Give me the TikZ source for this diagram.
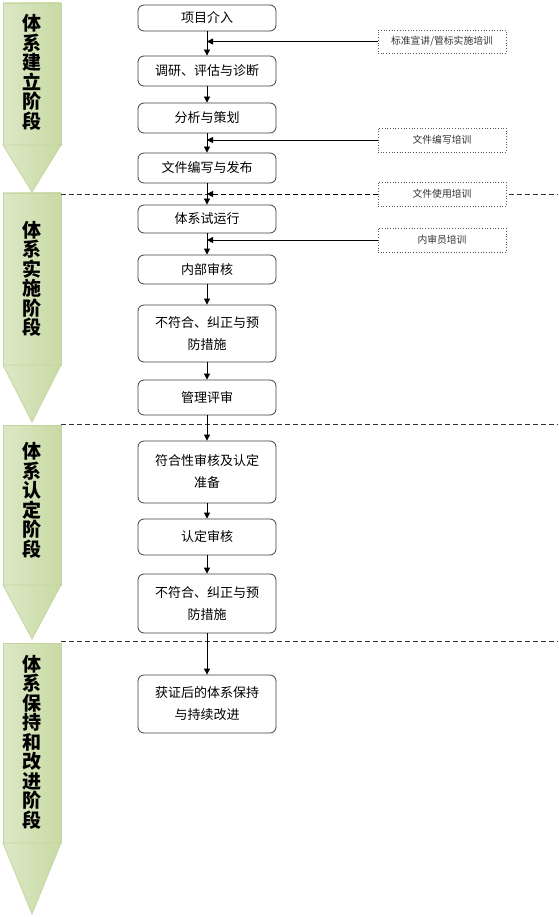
\documentclass[tikz,border=0pt]{standalone}
\usepackage{fontspec}
\setmainfont{Noto Sans CJK SC}
\usetikzlibrary{arrows.meta}
\definecolor{gborder}{HTML}{C3D69E}
\definecolor{gleft}{HTML}{DCE8C6}
\definecolor{gmid}{HTML}{F8FBF2}
\definecolor{gright}{HTML}{C8DAA4}
\definecolor{boxline}{HTML}{404040}
\begin{document}
\begin{tikzpicture}[x=1pt,y=-1pt,
  mainbox/.style={draw=boxline, rounded corners=6pt, line width=0.8pt, minimum width=138pt,
    align=center, font=\fontsize{13}{22}\selectfont, inner sep=0pt, fill=white},
  sidebox/.style={draw=black!65, dotted, line width=0.7pt, minimum width=128pt, minimum height=24pt,
    font=\fontsize{9.8}{11}\selectfont, text=black!80, inner sep=0pt, fill=white},
  arr/.style={-{Triangle[length=6pt,width=6pt]}, line width=0.8pt},
  divider/.style={dashed, dash pattern=on 5pt off 3pt, line width=0.7pt, black!80},
  chevrect/.style={draw=gborder, line width=0.8pt, left color=gleft, middle color=gmid, right color=gright},
  chevtri/.style={draw=gborder, line width=0.8pt, left color=gleft, middle color=gmid!70!gleft, right color=gright},
  stagetxt/.style={align=center, font=\bfseries\fontsize{19}{19.5}\selectfont, inner sep=0pt}]
\useasboundingbox (0,0) rectangle (558,917);
\fill[white] (0,0) rectangle (558,917);

% chevrons
\path[chevrect] (3,3) rectangle (61,145);
\path[chevtri] (3,145) -- (61,145) -- (32,192) -- cycle;
\path[chevrect] (3,193) rectangle (61,365);
\path[chevtri] (3,365) -- (61,365) -- (32,422) -- cycle;
\path[chevrect] (3,425) rectangle (61,585);
\path[chevtri] (3,585) -- (61,585) -- (32,639) -- cycle;
\path[chevrect] (3,643) rectangle (61,843);
\path[chevtri] (3,843) -- (61,843) -- (32,914) -- cycle;

\node[stagetxt] (st1) at (32,72.5) {体\\系\\建\\立\\阶\\段};
\node[stagetxt] (st2) at (32,279) {体\\系\\实\\施\\阶\\段};
\node[stagetxt] (st3) at (32,500.5) {体\\系\\认\\定\\阶\\段};
\node[stagetxt] (st4) at (32,742) {体\\系\\保\\持\\和\\改\\进\\阶\\段};

% dividers
\draw[divider] (61,194) -- (558,194);
\draw[divider] (61,424) -- (558,424);
\draw[divider] (61,641) -- (558,641);

% main boxes
\node[mainbox, minimum height=26pt] (n1) at (207,18) {项目介入};
\node[mainbox, minimum height=30pt] (n2) at (207,71) {调研、评估与诊断};
\node[mainbox, minimum height=30pt] (n3) at (207,118) {分析与策划};
\node[mainbox, minimum height=30pt] (n4) at (207,168) {文件编写与发布};
\node[mainbox, minimum height=28pt] (n5) at (207,219) {体系试运行};
\node[mainbox, minimum height=29pt] (n6) at (207,269.5) {内部审核};
\node[mainbox, minimum height=57pt] (n7) at (207,333.5) {不符合、纠正与预\\防措施};
\node[mainbox, minimum height=35pt] (n8) at (207,397.5) {管理评审};
\node[mainbox, minimum height=62pt] (n9) at (207,472) {符合性审核及认定\\准备};
\node[mainbox, minimum height=36pt] (n10) at (207,537) {认定审核};
\node[mainbox, minimum height=59pt] (n11) at (207,603.5) {不符合、纠正与预\\防措施};
\node[mainbox, minimum height=58pt] (n12) at (207,704) {获证后的体系保持\\与持续改进};

% side boxes
\node[sidebox, minimum height=23pt] (s1) at (442,41.5) {标准宣讲/管标实施培训};
\node[sidebox] (s2) at (442,140) {文件编写培训};
\node[sidebox] (s3) at (442,194) {文件使用培训};
\node[sidebox] (s4) at (442,240) {内审员培训};

% vertical arrows
\draw[arr] (n1) -- (n2);
\draw[arr] (n2) -- (n3);
\draw[arr] (n3) -- (n4);
\draw[arr] (n4) -- (n5);
\draw[arr] (n5) -- (n6);
\draw[arr] (n6) -- (n7);
\draw[arr] (n7) -- (n8);
\draw[arr] (n8) -- (n9);
\draw[arr] (n9) -- (n10);
\draw[arr] (n10) -- (n11);
\draw[arr] (n11) -- (n12);

% side arrows
\draw[arr] (s1.west) -- (s1.west -| n1.south);
\draw[arr] (s2.west) -- (s2.west -| n3.south);
\draw[arr, dashed, dash pattern=on 5pt off 3pt] (s3.west) -- (s3.west -| n4.south);
\draw[arr] (s4.west) -- (s4.west -| n5.south);
\end{tikzpicture}
\end{document}
